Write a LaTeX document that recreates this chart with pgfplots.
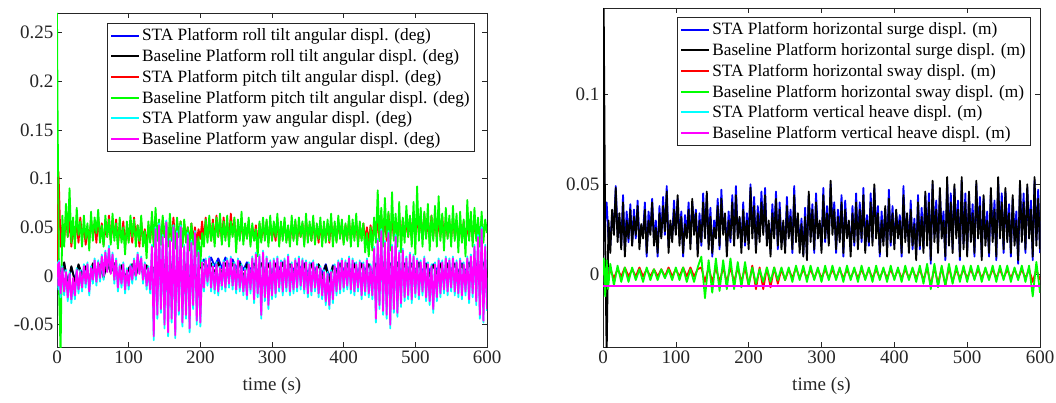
\documentclass[border=0pt]{standalone}
\usepackage{fontspec}
\setmainfont{Liberation Serif}
\usepackage{pgfplots}
\usepackage{pgfplotstable}
\pgfplotsset{compat=1.18}

\definecolor{axgray}{rgb}{0.15,0.15,0.15}
\definecolor{mblue}{rgb}{0,0,1}
\definecolor{mred}{rgb}{1,0,0}
\definecolor{mgreen}{rgb}{0,1,0}
\definecolor{mcyan}{rgb}{0,1,1}
\definecolor{mmagenta}{rgb}{1,0,1}

% roll tilt (deg): t, STA, baseline
\pgfplotstableread{
t   rs     rb
0   0.000  0.000
1   0.012  0.015
2  -0.005 -0.008
3   0.010  0.012
5  -0.004 -0.006
10  0.013  0.014
15 -0.007 -0.009
20  0.009  0.010
25 -0.004 -0.006
30  0.011  0.012
35  0.002  0.000
40  0.008  0.010
45 -0.005 -0.006
50  0.012  0.013
55  0.004  0.002
60  0.011  0.012
65 -0.001 -0.002
70  0.014  0.015
75  0.004  0.003
80  0.012  0.013
85 -0.003 -0.004
90  0.010  0.011
95  0.000 -0.002
100 0.006  0.008
105 0.011  0.012
110 0.001  0.000
115 0.013  0.014
120 0.003  0.002
125 0.010  0.011
130 -0.002 -0.003
135 0.006  0.008
140 0.010  0.012
145 -0.004 -0.005
150 0.010  0.012
155 0.000 -0.002
160 0.010  0.012
165 -0.005 -0.006
170 0.008  0.010
175 -0.002 -0.004
180 0.010  0.012
185 -0.004 -0.005
190 0.012  0.011
195 -0.003 -0.004
200 0.012  0.011
205 0.017  0.012
210 0.008  0.004
215 0.019  0.013
220 0.010  0.003
225 0.018  0.014
230 0.008  0.002
235 0.019  0.013
240 0.010  0.004
245 0.017  0.013
250 0.008  0.003
255 0.015  0.013
260 0.006 -0.002
265 0.014  0.012
270 0.006  0.002
275 0.013  0.012
280 0.004  0.000
285 0.013  0.013
290 0.006  0.003
295 0.013  0.012
300 0.004  0.001
305 0.013  0.012
310 0.007  0.004
315 0.014  0.013
320 0.004  0.000
325 0.012  0.012
330 0.006  0.003
335 0.013  0.012
340 0.008  0.004
345 0.013  0.012
350 0.002 -0.003
355 0.013  0.012
360 0.006  0.002
365 0.012  0.012
370 0.002 -0.003
375 0.012  0.011
380 -0.002 -0.006
385 0.011  0.010
390 0.006  0.003
395 0.013  0.012
400 0.006  0.003
405 0.013  0.012
410 0.004  0.001
415 0.013  0.012
420 0.004 -0.002
425 0.013  0.012
430 0.006  0.002
435 0.012  0.012
440 0.003  0.000
445 0.013  0.012
450 0.006  0.002
455 0.014  0.013
460 0.004  0.000
465 0.013  0.012
470 0.006  0.002
475 0.014  0.013
480 0.004  0.001
485 0.013  0.012
490 0.007  0.004
495 0.013  0.012
500 0.005  0.001
505 0.014  0.013
510 0.004 -0.002
515 0.013  0.012
520 0.005  0.000
525 0.012  0.011
530 0.006  0.002
535 0.013  0.012
540 0.002 -0.004
545 0.013  0.012
550 0.006  0.003
555 0.013  0.012
560 0.004  0.002
565 0.013  0.012
570 0.004  0.000
575 0.014  0.013
580 0.006  0.002
585 0.013  0.012
590 0.004  0.001
595 0.014  0.013
600 0.004  0.002
}\rolltable

% pitch tilt (deg): t, STA, baseline
\pgfplotstableread{
t     ps     pb
0     0.000  0.270
1     0.060  0.150
2     0.107  0.070
3     0.085 -0.020
5     0.030 -0.080
7.5   0.052  0.062
10    0.036  0.030
12.5  0.062  0.074
15    0.040  0.040
17.5  0.058  0.090
20    0.030  0.034
22.5  0.048  0.060
25    0.038  0.028
27.5  0.056  0.070
30    0.034  0.042
32.5  0.060  0.056
35    0.040  0.030
37.5  0.050  0.062
40    0.032  0.038
42.5  0.046  0.054
45    0.036  0.026
47.5  0.058  0.066
50    0.042  0.036
52.5  0.052  0.060
55    0.034  0.044
57.5  0.060  0.068
60    0.038  0.034
62.5  0.054  0.052
65    0.032  0.030
67.5  0.050  0.062
70    0.040  0.040
72.5  0.062  0.058
75    0.036  0.032
77.5  0.052  0.064
80    0.042  0.036
82.5  0.058  0.054
85    0.032  0.028
87.5  0.050  0.060
90    0.038  0.034
92.5  0.056  0.050
95    0.030  0.022
97.5  0.050  0.056
100   0.036  0.034
102.5 0.054  0.062
105   0.034  0.040
107.5 0.060  0.058
110   0.040  0.030
112.5 0.052  0.052
115   0.030  0.036
117.5 0.056  0.062
120   0.036  0.030
122.5 0.048  0.046
125   0.030  0.018
127.5 0.052  0.056
130   0.036  0.034
132.5 0.058  0.066
135   0.034  0.030
137.5 0.056  0.070
140   0.040  0.036
142.5 0.050  0.058
145   0.032  0.032
147.5 0.058  0.062
150   0.040  0.040
152.5 0.054  0.056
155   0.034  0.030
157.5 0.052  0.064
160   0.038  0.036
162.5 0.060  0.052
165   0.034  0.028
167.5 0.050  0.060
170   0.040  0.040
172.5 0.056  0.056
175   0.032  0.030
177.5 0.054  0.058
180   0.040  0.034
182.5 0.050  0.050
185   0.032  0.026
187.5 0.054  0.054
190   0.036  0.032
192.5 0.050  0.046
195   0.034  0.020
197.5 0.048  0.040
200   0.038  0.010
202.5 0.056  0.044
205   0.036  0.030
207.5 0.060  0.058
210   0.040  0.034
212.5 0.054  0.062
215   0.036  0.036
217.5 0.058  0.054
220   0.034  0.030
222.5 0.062  0.060
225   0.040  0.040
227.5 0.056  0.064
230   0.036  0.032
232.5 0.060  0.056
235   0.040  0.036
237.5 0.054  0.062
240   0.036  0.030
242.5 0.064  0.056
245   0.042  0.040
247.5 0.058  0.060
250   0.034  0.024
252.5 0.052  0.058
255   0.040  0.036
257.5 0.056  0.066
260   0.036  0.032
262.5 0.052  0.054
265   0.040  0.038
267.5 0.056  0.060
270   0.034  0.030
272.5 0.050  0.054
275   0.038  0.036
277.5 0.052  0.048
280   0.032  0.020
282.5 0.054  0.056
285   0.036  0.034
287.5 0.052  0.060
290   0.040  0.036
292.5 0.056  0.058
295   0.034  0.030
297.5 0.054  0.062
300   0.038  0.036
302.5 0.050  0.056
305   0.036  0.040
307.5 0.058  0.064
310   0.034  0.030
312.5 0.052  0.056
315   0.040  0.036
317.5 0.056  0.060
320   0.036  0.034
322.5 0.050  0.052
325   0.034  0.030
327.5 0.054  0.062
330   0.038  0.036
332.5 0.056  0.058
335   0.036  0.032
337.5 0.052  0.060
340   0.040  0.040
342.5 0.054  0.056
345   0.034  0.030
347.5 0.058  0.064
350   0.038  0.034
352.5 0.052  0.056
355   0.036  0.036
357.5 0.056  0.062
360   0.038  0.032
362.5 0.050  0.054
365   0.034  0.038
367.5 0.054  0.060
370   0.036  0.030
372.5 0.052  0.056
375   0.038  0.034
377.5 0.054  0.058
380   0.034  0.036
382.5 0.056  0.064
385   0.038  0.030
387.5 0.052  0.056
390   0.036  0.034
392.5 0.056  0.062
395   0.040  0.038
397.5 0.054  0.058
400   0.034  0.032
402.5 0.052  0.054
405   0.038  0.036
407.5 0.058  0.062
410   0.036  0.030
412.5 0.052  0.058
415   0.040  0.036
417.5 0.056  0.064
420   0.034  0.030
422.5 0.052  0.056
425   0.038  0.036
427.5 0.054  0.054
430   0.036  0.024
432.5 0.050  0.044
435   0.034  0.020
437.5 0.052  0.050
440   0.036  0.026
442.5 0.056  0.060
445   0.040  0.034
447.5 0.058  0.088
450   0.036  0.036
452.5 0.062  0.070
455   0.040  0.030
457.5 0.058  0.080
460   0.036  0.040
462.5 0.064  0.066
465   0.040  0.026
467.5 0.060  0.086
470   0.038  0.036
472.5 0.056  0.064
475   0.040  0.030
477.5 0.062  0.076
480   0.036  0.024
482.5 0.058  0.060
485   0.040  0.034
487.5 0.056  0.072
490   0.040  0.040
492.5 0.060  0.062
495   0.038  0.030
497.5 0.064  0.076
500   0.040  0.022
502.5 0.062  0.092
505   0.042  0.036
507.5 0.060  0.070
510   0.038  0.030
512.5 0.064  0.066
515   0.040  0.038
517.5 0.058  0.074
520   0.036  0.026
522.5 0.062  0.062
525   0.040  0.036
527.5 0.060  0.072
530   0.038  0.030
532.5 0.056  0.082
535   0.040  0.036
537.5 0.062  0.064
540   0.036  0.026
542.5 0.058  0.070
545   0.040  0.038
547.5 0.056  0.062
550   0.038  0.030
552.5 0.060  0.072
555   0.040  0.036
557.5 0.056  0.064
560   0.036  0.024
562.5 0.054  0.066
565   0.038  0.034
567.5 0.056  0.058
570   0.034  0.020
572.5 0.052  0.078
575   0.040  0.036
577.5 0.058  0.066
580   0.036  0.030
582.5 0.056  0.070
585   0.040  0.036
587.5 0.054  0.060
590   0.036  0.030
592.5 0.058  0.066
595   0.040  0.034
597.5 0.052  0.058
600   0.048  0.044
}\pitchtable

% yaw (deg): t, STA, baseline
\pgfplotstableread{
t     ys     yb
0     0.000  0.000
1     0.014  0.012
2    -0.014 -0.010
3     0.016  0.014
5    -0.022 -0.018
7.5   0.010  0.008
10   -0.020 -0.016
12.5  0.006  0.004
15   -0.026 -0.022
17.5  0.004  0.002
20   -0.028 -0.024
22.5 -0.006 -0.002
25   -0.024 -0.020
27.5  0.008  0.006
30   -0.018 -0.014
32.5  0.006  0.004
35   -0.016 -0.012
37.5  0.012  0.010
40   -0.012 -0.008
42.5  0.014  0.012
45   -0.020 -0.016
47.5  0.010  0.008
50   -0.008 -0.004
52.5  0.018  0.016
55   -0.010 -0.006
57.5  0.016  0.014
60   -0.006 -0.002
62.5  0.022  0.020
65   -0.004  0.000
67.5  0.026  0.024
70    0.006  0.004
72.5  0.031  0.028
75    0.004  0.002
77.5  0.024  0.022
80   -0.008 -0.004
82.5  0.018  0.016
85   -0.016 -0.012
87.5  0.012  0.010
90   -0.012 -0.008
92.5  0.014  0.012
95   -0.018 -0.014
97.5  0.008  0.006
100  -0.014 -0.010
102.5 0.012  0.010
105  -0.008 -0.004
107.5 0.018  0.016
110  -0.004  0.000
112.5 0.024  0.022
115   0.004  0.002
117.5 0.020  0.018
120  -0.008 -0.004
122.5 0.014  0.012
125  -0.014 -0.010
127.5 0.010  0.008
130  -0.018 -0.014
132.5 0.032  0.030
135  -0.066 -0.062
137.5 0.050  0.048
140  -0.044 -0.040
142.5 0.054  0.052
145  -0.038 -0.034
147.5 0.042  0.040
150  -0.054 -0.050
152.5 0.057  0.055
155  -0.062 -0.058
157.5 0.038  0.036
160  -0.048 -0.044
162.5 0.052  0.050
165  -0.064 -0.061
167.5 0.046  0.044
170  -0.040 -0.036
172.5 0.052  0.050
175  -0.052 -0.048
177.5 0.032  0.030
180  -0.044 -0.040
182.5 0.044  0.042
185  -0.058 -0.054
187.5 0.036  0.034
190  -0.034 -0.030
192.5 0.046  0.044
195  -0.050 -0.046
197.5 0.026  0.024
200  -0.052 -0.048
202.5 0.016  0.014
205  -0.016 -0.012
207.5 0.018  0.016
210  -0.010 -0.006
212.5 0.020  0.018
215  -0.016 -0.012
217.5 0.012  0.010
220  -0.018 -0.014
222.5 0.014  0.012
225  -0.020 -0.016
227.5 0.010  0.008
230  -0.014 -0.010
232.5 0.016  0.014
235  -0.016 -0.012
237.5 0.018  0.016
240  -0.012 -0.008
242.5 0.020  0.018
245  -0.014 -0.010
247.5 0.014  0.012
250  -0.018 -0.014
252.5 0.018  0.016
255  -0.016 -0.012
257.5 0.012  0.010
260  -0.020 -0.016
262.5 0.008  0.006
265  -0.024 -0.020
267.5 0.014  0.012
270  -0.018 -0.014
272.5 0.020  0.018
275  -0.028 -0.024
277.5 0.024  0.022
280  -0.022 -0.018
282.5 0.022  0.020
285  -0.044 -0.040
287.5 0.026  0.024
290  -0.026 -0.022
292.5 0.020  0.018
295  -0.034 -0.030
297.5 0.016  0.014
300  -0.024 -0.020
302.5 0.018  0.016
305  -0.022 -0.018
307.5 0.020  0.018
310  -0.016 -0.012
312.5 0.016  0.014
315  -0.020 -0.016
317.5 0.018  0.016
320  -0.016 -0.012
322.5 0.022  0.020
325  -0.020 -0.016
327.5 0.014  0.012
330  -0.018 -0.014
332.5 0.018  0.016
335  -0.016 -0.012
337.5 0.020  0.018
340  -0.014 -0.010
342.5 0.018  0.016
345  -0.018 -0.014
347.5 0.016  0.014
350  -0.022 -0.018
352.5 0.014  0.012
355  -0.020 -0.016
357.5 0.016  0.014
360  -0.016 -0.012
362.5 0.012  0.010
365  -0.022 -0.018
367.5 0.010  0.008
370  -0.024 -0.020
372.5 0.006  0.004
375  -0.030 -0.026
377.5 0.004  0.002
380  -0.034 -0.030
382.5 0.006  0.004
385  -0.028 -0.024
387.5 0.012  0.010
390  -0.020 -0.016
392.5 0.016  0.014
395  -0.018 -0.014
397.5 0.018  0.016
400  -0.016 -0.012
402.5 0.016  0.014
405  -0.014 -0.010
407.5 0.020  0.018
410  -0.018 -0.014
412.5 0.018  0.016
415  -0.020 -0.016
417.5 0.014  0.012
420  -0.016 -0.012
422.5 0.016  0.014
425  -0.024 -0.020
427.5 0.014  0.012
430  -0.020 -0.016
432.5 0.018  0.016
435  -0.022 -0.018
437.5 0.012  0.010
440  -0.024 -0.020
442.5 0.030  0.028
445  -0.048 -0.044
447.5 0.038  0.036
450  -0.034 -0.030
452.5 0.048  0.046
455  -0.040 -0.036
457.5 0.036  0.034
460  -0.044 -0.040
462.5 0.046  0.044
465  -0.054 -0.050
467.5 0.032  0.030
470  -0.038 -0.034
472.5 0.042  0.040
475  -0.042 -0.038
477.5 0.026  0.024
480  -0.032 -0.028
482.5 0.028  0.026
485  -0.026 -0.022
487.5 0.020  0.018
490  -0.024 -0.020
492.5 0.024  0.022
495  -0.028 -0.024
497.5 0.022  0.020
500  -0.022 -0.018
502.5 0.018  0.016
505  -0.024 -0.020
507.5 0.016  0.014
510  -0.020 -0.016
512.5 0.020  0.018
515  -0.026 -0.022
517.5 0.014  0.012
520  -0.030 -0.026
522.5 0.012  0.010
525  -0.038 -0.034
527.5 0.014  0.012
530  -0.026 -0.022
532.5 0.018  0.016
535  -0.022 -0.018
537.5 0.016  0.014
540  -0.018 -0.014
542.5 0.020  0.018
545  -0.020 -0.016
547.5 0.018  0.016
550  -0.016 -0.012
552.5 0.020  0.018
555  -0.020 -0.016
557.5 0.016  0.014
560  -0.022 -0.018
562.5 0.018  0.016
565  -0.024 -0.020
567.5 0.014  0.012
570  -0.020 -0.016
572.5 0.020  0.018
575  -0.028 -0.024
577.5 0.022  0.020
580  -0.022 -0.018
582.5 0.032  0.030
585  -0.030 -0.026
587.5 0.042  0.040
590  -0.044 -0.040
592.5 0.050  0.048
595  -0.048 -0.046
597.5 0.032  0.030
600  -0.036 -0.034
}\yawtable

% horizontal surge (m): t, STA, baseline
\pgfplotstableread{
t     ss     sb
0     0.000  0.000
1     0.065  0.147
3     0.030  0.020
5     0.040 -0.045
7.5   0.020  0.030
10    0.016  0.012
12.5  0.034  0.036
15    0.025  0.022
17.5  0.049  0.048
20    0.023  0.018
22.5  0.031  0.034
25    0.016  0.014
27.5  0.044  0.040
30    0.013  0.010
32.5  0.035  0.030
35    0.018  0.020
37.5  0.039  0.036
40    0.017  0.016
42.5  0.036  0.032
45    0.020  0.022
47.5  0.041  0.038
50    0.019  0.014
52.5  0.026  0.028
55    0.023  0.020
57.5  0.040  0.036
60    0.010  0.012
62.5  0.035  0.030
65    0.024  0.022
67.5  0.042  0.040
70    0.019  0.016
72.5  0.030  0.026
75    0.010  0.012
77.5  0.038  0.034
80    0.021  0.020
82.5  0.043  0.038
85    0.022  0.024
87.5  0.049  0.046
90    0.016  0.012
92.5  0.028  0.030
95    0.021  0.018
97.5  0.041  0.036
100   0.023  0.022
102.5 0.042  0.044
105   0.020  0.016
107.5 0.035  0.032
110   0.010  0.012
112.5 0.033  0.028
115   0.021  0.020
117.5 0.040  0.036
120   0.017  0.014
122.5 0.040  0.042
125   0.026  0.022
127.5 0.036  0.034
130   0.013  0.010
132.5 0.034  0.030
135   0.016  0.018
137.5 0.045  0.040
140   0.022  0.020
142.5 0.044  0.046
145   0.017  0.014
147.5 0.037  0.032
150   0.010  0.012
152.5 0.030  0.026
155   0.023  0.020
157.5 0.042  0.038
160   0.014  0.016
162.5 0.047  0.042
165   0.025  0.022
167.5 0.032  0.034
170   0.014  0.010
172.5 0.035  0.030
175   0.018  0.020
177.5 0.044  0.040
180   0.019  0.016
182.5 0.049  0.044
185   0.022  0.020
187.5 0.031  0.032
190   0.016  0.012
192.5 0.040  0.036
195   0.016  0.018
197.5 0.034  0.030
200   0.019  0.014
202.5 0.050  0.048
205   0.023  0.020
207.5 0.043  0.038
210   0.014  0.012
212.5 0.038  0.034
215   0.021  0.018
217.5 0.046  0.040
220   0.024  0.022
222.5 0.048  0.044
225   0.019  0.016
227.5 0.028  0.030
230   0.013  0.010
232.5 0.039  0.034
235   0.022  0.020
237.5 0.046  0.042
240   0.014  0.016
242.5 0.040  0.036
245   0.019  0.014
247.5 0.027  0.030
250   0.015  0.012
252.5 0.043  0.038
255   0.022  0.020
257.5 0.036  0.032
260   0.012  0.014
262.5 0.049  0.044
265   0.021  0.018
267.5 0.032  0.034
270   0.016  0.012
272.5 0.031  0.028
275   0.011  0.010
277.5 0.037  0.032
280   0.011  0.008
282.5 0.044  0.046
285   0.022  0.018
287.5 0.039  0.036
290   0.012  0.014
292.5 0.045  0.040
295   0.023  0.020
297.5 0.028  0.030
300   0.016  0.012
302.5 0.048  0.044
305   0.018  0.020
307.5 0.038  0.034
310   0.019  0.016
312.5 0.050  0.052
315   0.026  0.022
317.5 0.040  0.036
320   0.012  0.014
322.5 0.036  0.032
325   0.021  0.018
327.5 0.044  0.040
330   0.010  0.012
332.5 0.041  0.036
335   0.023  0.020
337.5 0.028  0.030
340   0.014  0.010
342.5 0.038  0.034
345   0.016  0.018
347.5 0.045  0.040
350   0.017  0.014
352.5 0.040  0.036
355   0.018  0.020
357.5 0.048  0.044
360   0.016  0.012
362.5 0.033  0.030
365   0.016  0.018
367.5 0.045  0.040
370   0.019  0.016
372.5 0.048  0.050
375   0.024  0.020
377.5 0.038  0.034
380   0.010  0.012
382.5 0.035  0.030
385   0.019  0.016
387.5 0.036  0.038
390   0.014  0.010
392.5 0.047  0.042
395   0.016  0.018
397.5 0.038  0.034
400   0.017  0.014
402.5 0.034  0.036
405   0.024  0.020
407.5 0.033  0.030
410   0.010  0.012
412.5 0.049  0.044
415   0.021  0.018
417.5 0.032  0.034
420   0.016  0.012
422.5 0.041  0.036
425   0.014  0.016
427.5 0.031  0.028
430   0.011  0.008
432.5 0.044  0.040
435   0.014  0.016
437.5 0.037  0.032
440   0.015  0.012
442.5 0.044  0.046
445   0.020  0.016
447.5 0.045  0.040
450   0.006  0.008
452.5 0.050  0.052
455   0.022  0.018
457.5 0.041  0.036
460   0.015  0.012
462.5 0.046  0.048
465   0.024  0.020
467.5 0.035  0.030
470   0.008  0.010
472.5 0.052  0.054
475   0.019  0.016
477.5 0.045  0.040
480   0.014  0.012
482.5 0.048  0.050
485   0.024  0.020
487.5 0.041  0.036
490   0.008  0.010
492.5 0.052  0.054
495   0.017  0.014
497.5 0.045  0.040
500   0.012  0.010
502.5 0.044  0.046
505   0.022  0.018
507.5 0.039  0.034
510   0.010  0.012
512.5 0.050  0.052
515   0.023  0.020
517.5 0.043  0.038
520   0.010  0.008
522.5 0.042  0.044
525   0.020  0.016
527.5 0.035  0.030
530   0.010  0.012
532.5 0.046  0.048
535   0.021  0.018
537.5 0.041  0.036
540   0.008  0.010
542.5 0.052  0.054
545   0.024  0.020
547.5 0.045  0.040
550   0.012  0.014
552.5 0.046  0.048
555   0.021  0.018
557.5 0.039  0.034
560   0.010  0.012
562.5 0.042  0.044
565   0.020  0.016
567.5 0.035  0.030
570   0.006  0.008
572.5 0.050  0.052
575   0.022  0.018
577.5 0.045  0.040
580   0.012  0.014
582.5 0.048  0.050
585   0.024  0.020
587.5 0.041  0.036
590   0.008  0.010
592.5 0.052  0.054
595   0.019  0.016
597.5 0.047  0.042
600   0.012  0.014
}\surgetable

% horizontal sway (m): t, STA, baseline
\pgfplotstableread{
t   ws     wb
0   0.000  0.000
1   0.004  0.009
3  -0.002 -0.012
5   0.003  0.008
7  -0.002 -0.008
10  0.003  0.006
15 -0.002 -0.006
20  0.003  0.005
25 -0.001 -0.004
30  0.004  0.004
35 -0.001 -0.004
40  0.003  0.004
45 -0.001 -0.003
50  0.004  0.003
55 -0.001 -0.004
60  0.003  0.004
65 -0.001 -0.003
70  0.003  0.003
75 -0.001 -0.003
80  0.003  0.003
85 -0.001 -0.002
90  0.004  0.003
95 -0.001 -0.003
100 0.003  0.004
105 -0.001 -0.003
110 0.004  0.004
115 -0.001 -0.004
120 0.004  0.003
125 -0.001 -0.004
130 0.003  0.004
135 0.004  0.010
140 -0.004 -0.013
145 0.004  0.008
150 -0.004 -0.010
155 0.004  0.009
160 -0.004 -0.009
165 0.004  0.008
170 -0.004 -0.008
175 0.004  0.009
180 -0.004 -0.008
185 0.004  0.007
190 -0.004 -0.007
195 0.004  0.007
200 -0.006 -0.006
205 0.005  0.004
210 -0.008 -0.005
215 0.004  0.003
220 -0.008 -0.004
225 0.004  0.004
230 -0.007 -0.004
235 0.004  0.004
240 -0.005 -0.003
245 0.003  0.004
250 -0.003 -0.003
255 0.003  0.004
260 -0.002 -0.004
265 0.004  0.005
270 -0.002 -0.003
275 0.003  0.005
280 -0.002 -0.004
285 0.003  0.005
290 -0.002 -0.003
295 0.003  0.004
300 -0.002 -0.004
305 0.003  0.005
310 -0.002 -0.003
315 0.003  0.005
320 -0.002 -0.003
325 0.003  0.004
330 -0.002 -0.004
335 0.003  0.005
340 -0.002 -0.003
345 0.003  0.004
350 -0.002 -0.004
355 0.003  0.005
360 -0.002 -0.003
365 0.003  0.004
370 -0.002 -0.004
375 0.003  0.005
380 -0.002 -0.003
385 0.003  0.004
390 -0.002 -0.004
395 0.003  0.005
400 -0.002 -0.003
405 0.003  0.004
410 -0.002 -0.004
415 0.003  0.005
420 -0.002 -0.003
425 0.003  0.004
430 -0.002 -0.004
435 0.003  0.005
440 -0.003 -0.005
445 0.004  0.006
450 -0.006 -0.008
455 0.004  0.006
460 -0.005 -0.007
465 0.004  0.005
470 -0.006 -0.006
475 0.004  0.006
480 -0.004 -0.005
485 0.003  0.005
490 -0.002 -0.004
495 0.003  0.005
500 -0.002 -0.004
505 0.003  0.005
510 -0.002 -0.003
515 0.003  0.005
520 -0.002 -0.004
525 0.003  0.004
530 -0.002 -0.003
535 0.003  0.005
540 -0.002 -0.004
545 0.003  0.005
550 -0.002 -0.003
555 0.003  0.005
560 -0.002 -0.004
565 0.003  0.004
570 -0.002 -0.003
575 0.003  0.005
580 -0.002 -0.004
585 0.003  0.005
590 -0.004 -0.012
595 0.003  0.007
600 -0.003 -0.010
}\swaytable

\pgfplotsset{
  platform/.style={
    scale only axis,
    xmin=0, xmax=600,
    xtick={0,100,200,300,400,500,600},
    xticklabels={0,100,200,300,400,500,600},
    tick align=inside,
    major tick length=5pt,
    axis line style={axgray, line width=0.6pt},
    every tick/.style={axgray, line width=0.6pt},
    tick label style={font=\fontsize{19}{19}\selectfont, text=axgray},
    xlabel={time (s)},
    xlabel style={font=\fontsize{19}{19}\selectfont, text=axgray, yshift=-7pt},
    legend cell align=left,
    legend style={font=\fontsize{17.3}{20}\selectfont, draw=axgray, line width=0.6pt,
      fill=white, at={(rel axis cs:1,1)}, anchor=north east,
      inner xsep=3pt, inner ysep=3.5pt, row sep=3pt},
    legend image code/.code={\draw[#1, line width=2pt] (0pt,0pt) -- (28pt,0pt);},
    every axis plot/.append style={line width=1.8pt, line join=round},
  }
}

\begin{document}
\begin{tikzpicture}
\path[use as bounding box] (0pt,0pt) rectangle (1056pt,402pt);

\begin{axis}[platform,
  at={(57pt,55pt)}, anchor=south west,
  width=430pt, height=334pt,
  ymin=-0.073, ymax=0.27,
  ytick={-0.05,0,0.05,0.1,0.15,0.2,0.25},
  yticklabels={-0.05,0,0.05,0.1,0.15,0.2,0.25},
  legend style={xshift=-12pt, yshift=-10pt}]
\addplot[mblue]    table[x=t, y=rs] {\rolltable};
\addlegendentry{STA Platform roll tilt angular displ. (deg)}
\addplot[black]    table[x=t, y=rb] {\rolltable};
\addlegendentry{Baseline Platform roll tilt angular displ. (deg)}
\addplot[mred]     table[x=t, y=ps] {\pitchtable};
\addlegendentry{STA Platform pitch tilt angular displ. (deg)}
\addplot[mgreen]   table[x=t, y=pb] {\pitchtable};
\addlegendentry{Baseline Platform pitch tilt angular displ. (deg)}
\addplot[mcyan]    table[x=t, y=ys] {\yawtable};
\addlegendentry{STA Platform yaw angular displ. (deg)}
\addplot[mmagenta] table[x=t, y=yb] {\yawtable};
\addlegendentry{Baseline Platform yaw angular displ. (deg)}
\end{axis}

\begin{axis}[platform,
  at={(603pt,55pt)}, anchor=south west,
  width=437pt, height=339pt,
  ymin=-0.04, ymax=0.1475,
  ytick={0,0.05,0.1},
  yticklabels={0,0.05,0.1},
  legend style={xshift=-9pt, yshift=-9pt}]
\addplot[mblue]    table[x=t, y=ss] {\surgetable};
\addlegendentry{STA Platform horizontal surge displ. (m)}
\addplot[black]    table[x=t, y=sb] {\surgetable};
\addlegendentry{Baseline Platform horizontal surge displ. (m)}
\addplot[mred]     table[x=t, y=ws] {\swaytable};
\addlegendentry{STA Platform horizontal sway displ. (m)}
\addplot[mgreen]   table[x=t, y=wb] {\swaytable};
\addlegendentry{Baseline Platform horizontal sway displ. (m)}
\addplot[mcyan]    coordinates {(0,-0.0064) (600,-0.0064)};
\addlegendentry{STA Platform vertical heave displ. (m)}
\addplot[mmagenta] coordinates {(0,-0.0064) (600,-0.0064)};
\addlegendentry{Baseline Platform vertical heave displ. (m)}
\end{axis}
\end{tikzpicture}
\end{document}
